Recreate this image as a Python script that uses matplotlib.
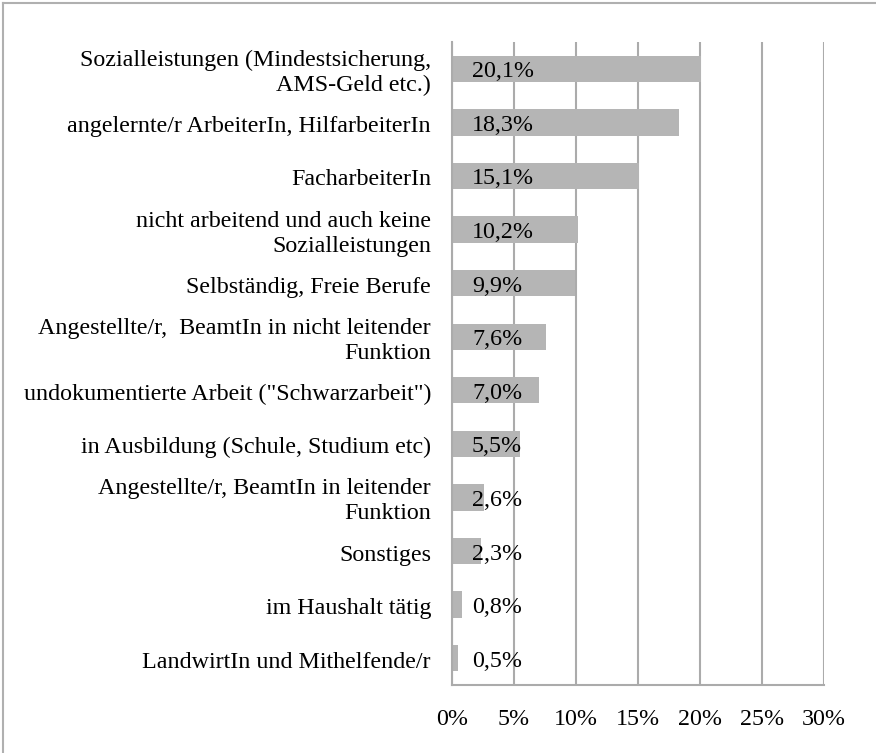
import matplotlib.pyplot as plt
from matplotlib.lines import Line2D

categories = [
    "Sozialleistungen (Mindestsicherung,\nAMS-Geld etc.)",
    "angelernte/r ArbeiterIn, HilfarbeiterIn",
    "FacharbeiterIn",
    "nicht arbeitend und auch keine\nSozialleistungen",
    "Selbständig, Freie Berufe",
    "Angestellte/r,  BeamtIn in nicht leitender\nFunktion",
    "undokumentierte Arbeit (\"Schwarzarbeit\")",
    "in Ausbildung (Schule, Studium etc)",
    "Angestellte/r, BeamtIn in leitender\nFunktion",
    "Sonstiges",
    "im Haushalt tätig",
    "LandwirtIn und Mithelfende/r",
]
values = [20.1, 18.3, 15.1, 10.2, 9.9, 7.6, 7.0, 5.5, 2.6, 2.3, 0.8, 0.5]
xticks = [0, 5, 10, 15, 20, 25, 30]

plt.rcParams['font.family'] = 'serif'
plt.rcParams['font.serif'] = ['Liberation Serif', 'DejaVu Serif']
fs = 17.3

fig = plt.figure(figsize=(8.76, 7.53), dpi=100)
ax = fig.add_axes([452 / 876, 1 - 685 / 753, (824 - 452) / 876, (685 - 42) / 753])

pos = list(range(len(values)))
ax.barh(pos, values, height=0.49, color='#b5b5b5', zorder=2)
ax.set_ylim(len(values) - 0.5, -0.5)
ax.set_xlim(0, 30)

ax.set_xticks(xticks)
ax.set_xticklabels([f"{t}%" for t in xticks], fontsize=fs)
ax.set_yticks(pos)
ax.set_yticklabels([])
ax.tick_params(axis='both', length=0)
ax.tick_params(axis='x', pad=17)

ax.grid(axis='x', color='#ababab', linewidth=1.5, zorder=0)
for s in ['top', 'right']:
    ax.spines[s].set_visible(False)
for s in ['left', 'bottom']:
    ax.spines[s].set_color('#ababab')
    ax.spines[s].set_linewidth(1.5)

for p, c in zip(pos, categories):
    ax.annotate(c, xy=(0, p), xytext=(-21, -4), textcoords='offset pixels',
                va='center', ha='right', multialignment='right',
                fontsize=fs, linespacing=1.25, annotation_clip=False)

for p, v in zip(pos, values):
    ax.annotate(f"{v:.1f}%".replace('.', ','), xy=(0, p), xytext=(20, -3),
                textcoords='offset pixels', va='center', ha='left',
                fontsize=fs, zorder=3)

# outer frame (only left and top edges are visible in the crop)
fig.add_artist(Line2D([3 / 876, 3 / 876], [0, 1 - 3 / 753], transform=fig.transFigure,
                      color='#b0b0b0', linewidth=1.5))
fig.add_artist(Line2D([3 / 876, 1], [1 - 3 / 753, 1 - 3 / 753], transform=fig.transFigure,
                      color='#b0b0b0', linewidth=1.5))

fig.savefig('out.png', dpi=100)
